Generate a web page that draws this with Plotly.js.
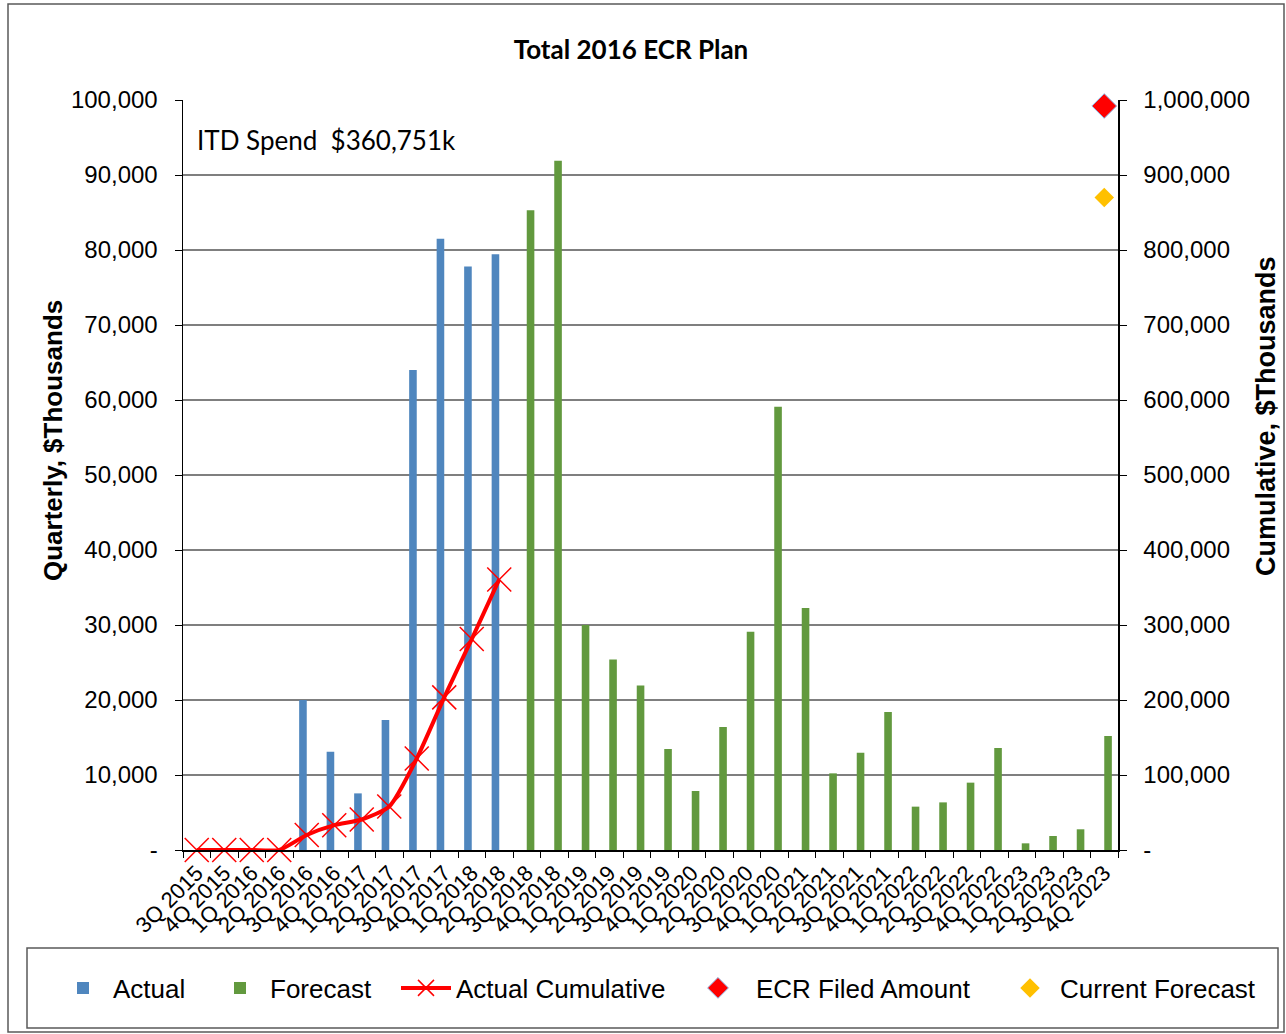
<!DOCTYPE html>
<html>
<head>
<meta charset="utf-8">
<script src="https://cdn.plot.ly/plotly-3.0.1.min.js"></script>
<style>
  html, body { margin: 0; padding: 0; background: #ffffff; }
  #chart { width: 1286px; height: 1034px; }
</style>
</head>
<body>
<div id="chart"></div>
<script>
// ---------- data ----------
const categories = [
  '3Q 2015','4Q 2015',
  '1Q 2016','2Q 2016','3Q 2016','4Q 2016',
  '1Q 2017','2Q 2017','3Q 2017','4Q 2017',
  '1Q 2018','2Q 2018','3Q 2018','4Q 2018',
  '1Q 2019','2Q 2019','3Q 2019','4Q 2019',
  '1Q 2020','2Q 2020','3Q 2020','4Q 2020',
  '1Q 2021','2Q 2021','3Q 2021','4Q 2021',
  '1Q 2022','2Q 2022','3Q 2022','4Q 2022',
  '1Q 2023','2Q 2023','3Q 2023','4Q 2023'
];

const actualQuarterly = [
  0, 0, 0, 0, 20000, 13100, 7550, 17350, 64000, 81500, 77800, 79450,
  null, null, null, null, null, null, null, null, null, null, null, null,
  null, null, null, null, null, null, null, null, null, null
];

const forecastQuarterly = [
  null, null, null, null, null, null, null, null, null, null, null, null,
  85300, 91900, 30000, 25400, 21950, 13470, 7870, 16400, 29100, 59100,
  32270, 10220, 12980, 18400, 5780, 6350, 8980, 13600, 890, 1870, 2760, 15200
];

const actualCumulative = [
  0, 0, 0, 0, 20000, 33100, 40650, 58000, 122000, 203500, 281300, 360751,
  null, null, null, null, null, null, null, null, null, null, null, null,
  null, null, null, null, null, null, null, null, null, null
];

const ecrFiledCategory = ['4Q 2023'];
const ecrFiledAmount = [992000];
const currentForecastCategory = ['4Q 2023'];
const currentForecastAmount = [870000];

const leftTickVals = [0, 10000, 20000, 30000, 40000, 50000, 60000, 70000, 80000, 90000, 100000];
const leftTickText = ['-', '10,000', '20,000', '30,000', '40,000', '50,000', '60,000', '70,000', '80,000', '90,000', '100,000'];
const rightTickVals = [0, 100000, 200000, 300000, 400000, 500000, 600000, 700000, 800000, 900000, 1000000];
const rightTickText = ['-', '100,000', '200,000', '300,000', '400,000', '500,000', '600,000', '700,000', '800,000', '900,000', '1,000,000'];

const chartTitle = 'Total 2016 ECR Plan';
const leftAxisTitle = 'Quarterly, $Thousands';
const rightAxisTitle = 'Cumulative, $Thousands';
const itdLabel = 'ITD Spend&nbsp;&nbsp;$360,751k';

// ---------- styling ----------
const FONT = 'Liberation Sans, Arial, sans-serif';
const TITLE_FONT = 'Lato, Liberation Sans, sans-serif';

const traces = [
  {
    type: 'bar', name: 'Actual', x: categories, y: actualQuarterly,
    marker: { color: '#4F86BE' }, yaxis: 'y', legend: 'legend', hoverinfo: 'x+y'
  },
  {
    type: 'bar', name: 'Forecast', x: categories, y: forecastQuarterly,
    marker: { color: '#62993E' }, yaxis: 'y', legend: 'legend2', hoverinfo: 'x+y'
  },
  {
    type: 'scatter', mode: 'lines+markers', name: 'Actual Cumulative',
    x: categories, y: actualCumulative, yaxis: 'y2', legend: 'legend3',
    line: { color: '#FF0000', width: 4, shape: 'spline', smoothing: 0.6 },
    marker: { symbol: 'x-thin', size: 24, color: '#FF0000', line: { color: '#FF0000', width: 1.5 } },
    connectgaps: false, cliponaxis: false
  },
  {
    type: 'scatter', mode: 'markers', name: 'ECR Filed Amount',
    x: ecrFiledCategory, y: ecrFiledAmount, yaxis: 'y2', legend: 'legend4', cliponaxis: false,
    marker: { symbol: 'diamond', size: 19, color: '#FF0000', line: { color: '#8DB3E2', width: 1 } }
  },
  {
    type: 'scatter', mode: 'markers', name: 'Current Forecast',
    x: currentForecastCategory, y: currentForecastAmount, yaxis: 'y2', legend: 'legend5', cliponaxis: false,
    marker: { symbol: 'diamond', size: 15, color: '#FFC000', line: { width: 0 } }
  }
];

// plot area in pixels: left 183, right 1118, top 100, bottom 850
const PL = 183, PR = 1118, PT = 100, PB = 850;
const px2x = p => (p - PL) / (PR - PL);
const px2y = p => (PB - p) / (PB - PT);

const legendBase = {
  orientation: 'h', xanchor: 'left', yanchor: 'middle',
  font: { family: FONT, size: 26, color: '#000000' },
  bgcolor: 'rgba(0,0,0,0)', borderwidth: 0
};
const legendY = px2y(988);

const layout = {
  width: 1286, height: 1034,
  margin: { l: PL, r: 1286 - PR, t: PT, b: 1034 - PB, pad: 0 },
  paper_bgcolor: '#ffffff', plot_bgcolor: '#ffffff',
  font: { family: FONT, size: 22, color: '#000000' },
  barmode: 'group', bargap: 0.447, bargroupgap: 0,
  title: {
    text: chartTitle, font: { family: TITLE_FONT, size: 26, weight: 'bold', color: '#000000' },
    xref: 'container', x: 631 / 1286, xanchor: 'center',
    yref: 'container', y: 1 - 50 / 1034, yanchor: 'middle'
  },
  xaxis: {
    type: 'category', range: [-0.5, categories.length - 0.5],
    tickangle: -45, tickson: 'boundaries', ticks: 'outside', ticklen: 6, tickcolor: '#000000',
    showline: true, linecolor: '#000000', linewidth: 1.5, showgrid: false, zeroline: false,
    tickfont: { family: FONT, size: 22, color: '#000000' }, automargin: false
  },
  yaxis: {
    range: [0, 100000], tickvals: leftTickVals, ticktext: leftTickText,
    ticks: 'outside', ticklen: 7, tickcolor: '#000000', ticklabelstandoff: 12,
    showline: true, linecolor: '#000000', linewidth: 1.5,
    showgrid: true, gridcolor: '#7F7F7F', gridwidth: 1.2, zeroline: false,
    tickfont: { family: FONT, size: 24, color: '#000000' }, automargin: false
  },
  yaxis2: {
    overlaying: 'y', side: 'right', range: [0, 1000000],
    tickvals: rightTickVals, ticktext: rightTickText,
    ticks: 'outside', ticklen: 7, tickcolor: '#000000', ticklabelstandoff: 12,
    showline: true, linecolor: '#000000', linewidth: 1.5,
    showgrid: false, zeroline: false,
    tickfont: { family: FONT, size: 24, color: '#000000' }, automargin: false
  },
  legend:  Object.assign({}, legendBase, { x: px2x(53), y: legendY, itemwidth: 50 }),
  legend2: Object.assign({}, legendBase, { x: px2x(210), y: legendY, itemwidth: 50 }),
  legend3: Object.assign({}, legendBase, { x: px2x(396), y: legendY, itemwidth: 50 }),
  legend4: Object.assign({}, legendBase, { x: px2x(680), y: legendY, itemwidth: 66 }),
  legend5: Object.assign({}, legendBase, { x: px2x(1000), y: legendY, itemwidth: 50 }),
  annotations: [
    {
      text: itdLabel, xref: 'paper', yref: 'paper',
      x: px2x(195), y: px2y(140), xanchor: 'left', yanchor: 'middle', showarrow: false,
      font: { family: TITLE_FONT, size: 26, color: '#000000' }
    },
    {
      text: leftAxisTitle, xref: 'paper', yref: 'paper', textangle: -90,
      x: px2x(53), y: px2y(441), xanchor: 'center', yanchor: 'middle', showarrow: false,
      font: { family: FONT, size: 26, weight: 'bold', color: '#000000' }
    },
    {
      text: rightAxisTitle, xref: 'paper', yref: 'paper', textangle: -90,
      x: px2x(1266), y: px2y(416), xanchor: 'center', yanchor: 'middle', showarrow: false,
      font: { family: FONT, size: 27, weight: 'bold', color: '#000000' }
    }
  ],
  shapes: [
    { type: 'rect', xref: 'paper', yref: 'paper', layer: 'below',
      x0: px2x(8), x1: px2x(1284), y0: px2y(4), y1: px2y(1032),
      line: { color: '#595959', width: 1.5 }, fillcolor: 'rgba(0,0,0,0)' },
    { type: 'rect', xref: 'paper', yref: 'paper', layer: 'below',
      x0: px2x(27), x1: px2x(1278), y0: px2y(948), y1: px2y(1028),
      line: { color: '#595959', width: 1.5 }, fillcolor: 'rgba(0,0,0,0)' }
  ],
  showlegend: true
};

Plotly.newPlot('chart', traces, layout, { displayModeBar: false, staticPlot: true });
</script>
</body>
</html>
